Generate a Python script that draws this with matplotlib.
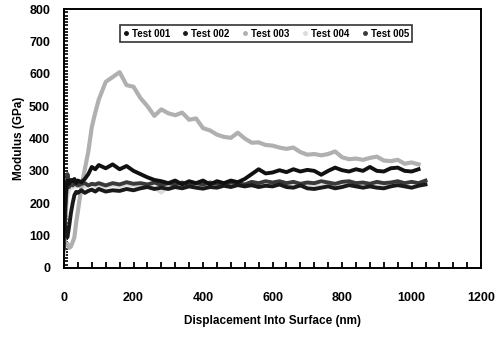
import numpy as np
import matplotlib
matplotlib.use("Agg")
import matplotlib.pyplot as plt
from matplotlib.lines import Line2D
from matplotlib.ticker import MultipleLocator

plt.rcParams['font.family'] = ['Liberation Sans', 'DejaVu Sans']
plt.rcParams['font.weight'] = 'bold'

nan = np.nan

# displacement into surface (nm)
depth = [0, 5, 10, 15, 20, 25, 30, 35, 40, 50, 60, 70, 80, 90, 100,
         120, 140, 160, 180, 200, 220, 240, 260, 280, 300,
         320, 340, 360, 380, 400, 420, 440, 460, 480, 500,
         520, 540, 560, 580, 600, 620, 640, 660, 680, 700,
         720, 740, 760, 780, 800, 820, 840, 860, 880, 900,
         920, 940, 960, 980, 1000, 1020, 1040]

# modulus (GPa) per test
test_001 = [120, 230, 270, 260, 272, 268, 275, 262, 270, 265, 275, 290, 312, 305, 318,
            308, 320, 305, 315, 300, 290, 280, 272, 268, 262,
            270, 258, 268, 262, 270, 258, 268, 262, 270, 265,
            275, 290, 305, 292, 295, 302, 296, 305, 298, 303,
            300, 288, 300, 310, 302, 298, 305, 300, 312, 300,
            298, 308, 310, 300, 298, 305, nan]
test_002 = [150, 110, 95, 130, 170, 200, 225, 235, 232, 240, 232, 238, 242, 236, 244,
            236, 240, 238, 244, 240, 246, 250, 244, 248, 244,
            250, 246, 252, 248, 245, 250, 248, 254, 250, 256,
            252, 256, 250, 254, 252, 258, 250, 248, 255, 246,
            244, 248, 252, 246, 250, 256, 252, 248, 252, 248,
            246, 252, 256, 252, 248, 254, 258]
test_003 = [90, 70, 75, 62, 66, 80, 95, 140, 175, 250, 305, 360, 435, 480, 520,
            575, 590, 605, 565, 560, 525, 500, 470, 490, 478,
            472, 480, 458, 462, 432, 425, 412, 405, 402, 418,
            400, 387, 388, 380, 378, 372, 368, 372, 358, 350,
            352, 348, 352, 360, 342, 336, 338, 334, 340, 344,
            332, 330, 334, 322, 326, 320, nan]
test_004 = [40, 150, 220, 240, 250, 248, 255, 250, 252, 256, 250, 254, 258, 252, 255,
            250, 256, 252, 258, 254, 250, 256, 248, 232, 252,
            256, 252, 258, 254, 250, 256, 252, 258, 254, 260,
            256, 252, 258, 254, 260, 256, 252, 258, 254, 260,
            256, 252, 258, 254, 260, 256, 252, 258, 254, 256,
            252, 258, 254, 256, nan, nan, nan]
test_005 = [60, 200, 290, 250, 265, 255, 262, 258, 255, 260, 262, 255, 260, 258, 262,
            255, 262, 258, 265, 260, 262, 258, 264, 256, 262,
            258, 264, 256, 262, 258, 264, 260, 258, 264, 262,
            258, 266, 262, 268, 264, 268, 262, 266, 260, 264,
            262, 268, 264, 260, 266, 268, 262, 264, 260, 266,
            262, 264, 268, 262, 266, 262, 270]

labels = ['Test 001', 'Test 002', 'Test 003', 'Test 004', 'Test 005']
series = [test_001, test_002, test_003, test_004, test_005]
colors = ['#111111', '#1a1a1a', '#b0b0b0', '#dcdcdc', '#3a3a3a']
widths = [2.8, 2.8, 3.0, 2.6, 2.8]
draw_order = [3, 2, 4, 1, 0]

fig = plt.figure(figsize=(4.96, 3.37), dpi=100)
ax = fig.add_axes([0.129, 0.205, 0.841, 0.768])

for i in draw_order:
    ax.plot(depth, series[i], color=colors[i], lw=widths[i], solid_joinstyle='round')

ax.set_xlim(0, 1200)
ax.set_ylim(0, 800)
ax.xaxis.set_major_locator(MultipleLocator(200))
ax.xaxis.set_minor_locator(MultipleLocator(40))
ax.yaxis.set_major_locator(MultipleLocator(100))
ax.yaxis.set_minor_locator(MultipleLocator(10))
ax.tick_params(axis='x', which='both', direction='in', length=4, width=1.3, pad=17,
               labelsize=9, top=False)
ax.tick_params(axis='y', which='both', direction='in', length=3, width=1.2, pad=10,
               labelsize=9, right=False)
for s in ax.spines.values():
    s.set_linewidth(1.4)

ax.set_xlabel('Displacement Into Surface (nm)', fontsize=8.5, fontweight='bold', labelpad=8)
ax.set_ylabel('Modulus (GPa)', fontsize=8.5, fontweight='bold', labelpad=3)

handles = [Line2D([], [], ls='none', marker='o', ms=2.5, color=c) for c in colors]
leg = ax.legend(handles, labels, loc='center', bbox_to_anchor=(0.484, 0.905), ncol=5,
                fontsize=7, frameon=True, fancybox=False, handlelength=0.6,
                handletextpad=0.3, columnspacing=1.3, borderpad=0.35)
leg.get_frame().set_edgecolor('black')
leg.get_frame().set_linewidth(1.2)
for t in leg.get_texts():
    t.set_fontweight('bold')

fig.savefig('out.png', dpi=100)
